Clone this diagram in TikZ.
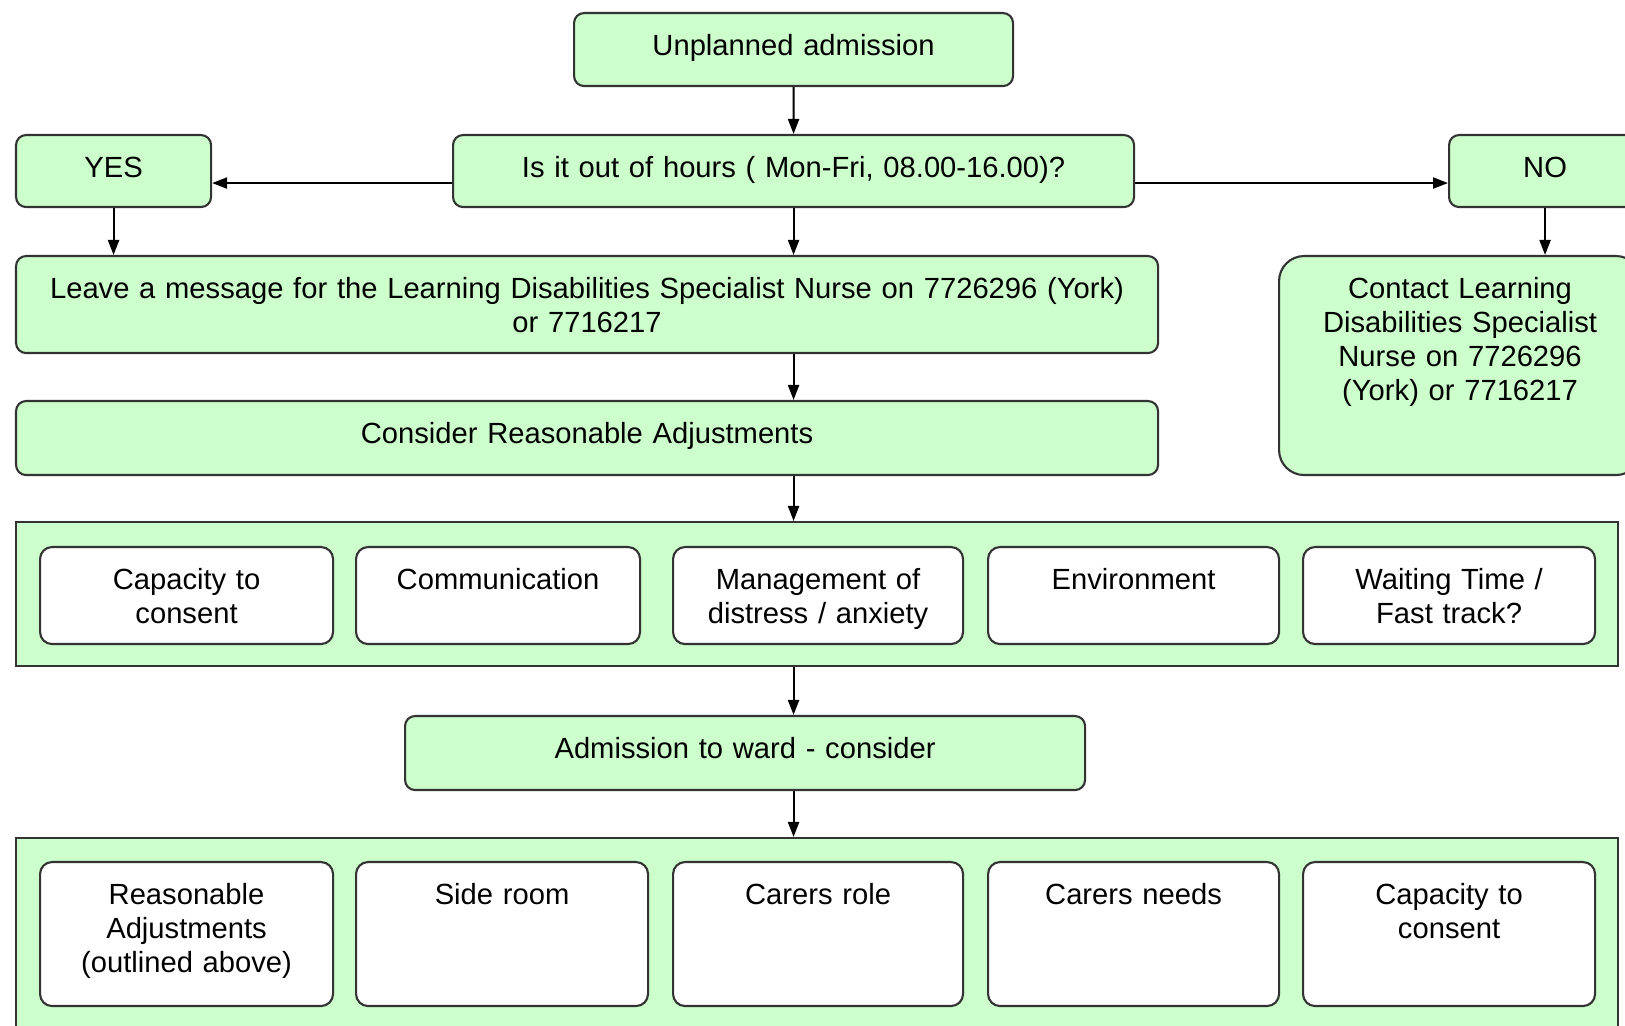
\documentclass[tikz,border=0pt]{standalone}
\usepackage{fontspec}
\setmainfont{Liberation Sans}
\usetikzlibrary{arrows.meta}
\definecolor{lgreen}{RGB}{204,255,204}
\begin{document}
\begin{tikzpicture}

	\tikzset{line/.style={draw=black!80,line width=0.6pt}}
	\tikzset{arrow/.style={draw=black,line width=0.6pt,-{Triangle[length=0.15cm,width=0.11cm]}}}
	\tikzset{box/.style={line,fill=lgreen,rounded corners=0.1cm,inner sep=0pt,anchor=north west,align=center,text height=0.42cm,font=\fontsize{8.3}{9.7}\selectfont}}
	\tikzset{item/.style={box,fill=white,rounded corners=0.12cm}}
	\tikzset{group/.style={line,fill=lgreen,inner sep=0pt,anchor=north west,minimum width=16.02cm}}

	\path[use as bounding box,clip] (0,0) rectangle (16.25,-10.26);

	% top of the chart
	\node[box,text width=4.39cm,text depth=0.31cm] (adm) at (5.73,-0.12) {Unplanned admission};
	\node[box,text width=1.95cm,text depth=0.30cm] (yes) at (0.15,-1.34) {YES};
	\node[box,text width=6.81cm,text depth=0.30cm] (hours) at (4.52,-1.34) {Is it out of hours ( Mon-Fri, 08.00-16.00)?};
	\node[box,text width=1.92cm,text depth=0.30cm] (no) at (14.48,-1.34) {NO};

	\node[box,text width=11.42cm,text depth=0.55cm] (msg) at (0.15,-2.55) {Leave a message for the Learning Disabilities Specialist Nurse on 7726296 (York)\\or 7716217};
	\node[box,rounded corners=0.25cm,text width=3.62cm,text depth=1.77cm] (contact) at (12.78,-2.55) {Contact Learning\\Disabilities Specialist\\Nurse on 7726296\\(York) or 7716217};
	\node[box,text width=11.42cm,text depth=0.32cm] (cra) at (0.15,-4.00) {Consider Reasonable Adjustments};

	% first group
	\node[group,minimum height=1.44cm] (grp1) at (0.15,-5.21) {};
	\node[item,text width=2.93cm,text depth=0.55cm] (capa) at (0.39,-5.46) {Capacity to\\consent};
	\node[item,text width=2.84cm,text depth=0.55cm] (comm) at (3.55,-5.46) {Communication};
	\node[item,text width=2.90cm,text depth=0.55cm] (dist) at (6.72,-5.46) {Management of\\distress / anxiety};
	\node[item,text width=2.91cm,text depth=0.55cm] (envi) at (9.87,-5.46) {Environment};
	\node[item,text width=2.92cm,text depth=0.55cm] (wait) at (13.02,-5.46) {Waiting Time /\\Fast track?};

	\node[box,text width=6.80cm,text depth=0.32cm] (ward) at (4.04,-7.15) {Admission to ward - consider};

	% second group
	\node[group,minimum height=2.2cm] (grp2) at (0.15,-8.37) {};
	\node[item,text width=2.93cm,text depth=1.02cm] (radj) at (0.39,-8.61) {Reasonable\\Adjustments\\(outlined above)};
	\node[item,text width=2.92cm,text depth=1.02cm] (side) at (3.55,-8.61) {Side room};
	\node[item,text width=2.90cm,text depth=1.02cm] (role) at (6.72,-8.61) {Carers role};
	\node[item,text width=2.91cm,text depth=1.02cm] (need) at (9.87,-8.61) {Carers needs};
	\node[item,text width=2.92cm,text depth=1.02cm] (capb) at (13.02,-8.61) {Capacity to\\consent};

	% connectors
	\path[arrow] (adm) -- (hours);
	\path[arrow] ([yshift=-0.12cm]hours.west) -- ([yshift=-0.12cm]yes.east);
	\path[arrow] ([yshift=-0.12cm]hours.east) -- ([yshift=-0.12cm]no.west);
	\path[arrow] (yes.south) -- (yes.south |- msg.north);
	\path[arrow] (hours.south) -- (hours.south |- msg.north);
	\path[arrow] (no.south) -- (no.south |- contact.north);
	\path[arrow] (msg.south -| hours.south) -- (cra.north -| hours.south);
	\path[arrow] (cra.south -| hours.south) -- (grp1.north -| hours.south);
	\path[arrow] (grp1.south -| hours.south) -- (ward.north -| hours.south);
	\path[arrow] (ward.south -| hours.south) -- (grp2.north -| hours.south);

\end{tikzpicture}
\end{document}
